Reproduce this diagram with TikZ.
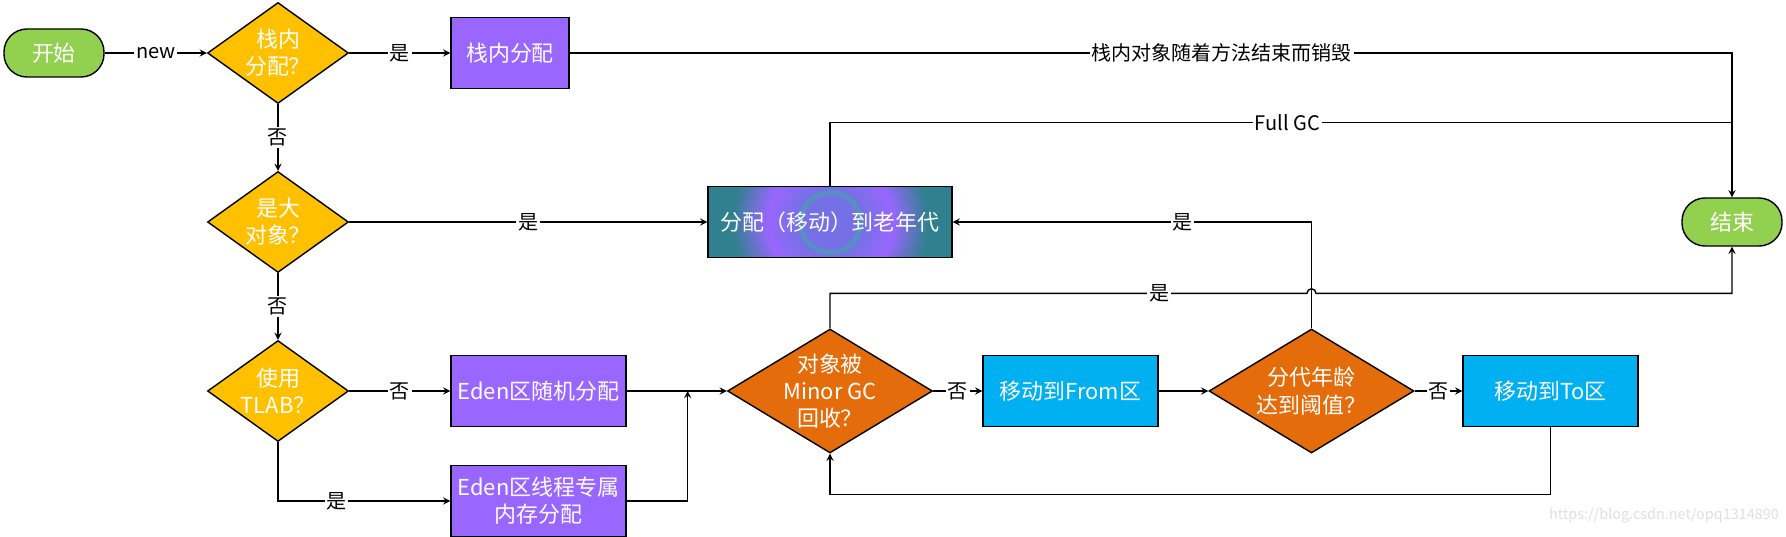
\documentclass[tikz,border=0pt]{standalone}
\usepackage{fontspec}
\setmainfont{Noto Sans CJK SC}
\usetikzlibrary{shapes.geometric, arrows}

\definecolor{termgreen}{HTML}{92D050}
\definecolor{choiceyellow}{HTML}{FFC000}
\definecolor{edenpurple}{HTML}{9966FF}
\definecolor{gcorange}{HTML}{E46C0A}
\definecolor{survivorcyan}{HTML}{00B0F0}
\definecolor{oldteal}{HTML}{31808F}
\definecolor{oldcore}{HTML}{7670E6}
\definecolor{oldring}{HTML}{4F98B8}

\newcommand{\boxfont}{\fontsize{12.5}{15.5}\selectfont}
\newcommand{\lblfont}{\fontsize{11.4}{13}\selectfont}

\pgfdeclareradialshading{oldgenshade}{\pgfpointorigin}{color(0cm)=(oldcore); color(0.52cm)=(oldcore); color(0.6cm)=(oldring); color(0.68cm)=(oldcore); color(1.25cm)=(edenpurple); color(1.95cm)=(oldteal); color(2.6cm)=(oldteal)}

\tikzstyle{arrow} = [thick,->,>=stealth]
\tikzstyle{terminal} = [rectangle, rounded corners=0.46cm, minimum width=2cm, minimum height=0.96cm, draw=black, thick, fill=termgreen, text=white, font=\boxfont]
\tikzstyle{choice} = [diamond, aspect=1.4, inner sep=-0.15cm, minimum width=2.82cm, minimum height=2.02cm, draw=black, thick, fill=choiceyellow, text=white, align=center, font=\boxfont]
\tikzstyle{gcchoice} = [diamond, aspect=1.65, inner sep=-0.3cm, minimum width=4.1cm, minimum height=2.48cm, draw=black, thick, fill=gcorange, text=white, align=center, font=\boxfont]
\tikzstyle{edenbox} = [rectangle, minimum width=3.5cm, minimum height=1.42cm, draw=black, thick, fill=edenpurple, text=white, align=center, font=\boxfont]
\tikzstyle{survivorbox} = [rectangle, minimum width=3.5cm, minimum height=1.42cm, draw=black, thick, fill=survivorcyan, text=white, align=center, font=\boxfont]
\tikzstyle{oldbox} = [rectangle, minimum width=4.88cm, minimum height=1.42cm, draw=black, thick, text=white, font=\boxfont, path picture={\node[inner sep=0pt] at (path picture bounding box.center) {\pgfuseshading{oldgenshade}};}]
\tikzstyle{lbl} = [fill=white, inner sep=1pt, text=black, font=\lblfont]

\begin{document}
\begin{tikzpicture}
	\useasboundingbox (0,0) rectangle (35.72,-10.74);
	\node (start) [terminal] at (1.08,-1.06) {开始};
	\node (stackq) [choice, right of=start, xshift=3.48cm] {栈内\\分配？};
	\node (stackalloc) [edenbox, minimum width=2.36cm, right of=stackq, xshift=3.64cm] {栈内分配};
	\node (bigq) [choice, below of=stackq, yshift=-2.38cm] {是大\\对象？};
	\node (tlabq) [choice, below of=bigq, yshift=-2.38cm] {使用\\TLAB？};
	\node (edenrand) [edenbox, right of=tlabq, xshift=4.21cm] {Eden区随机分配};
	\node (edentlab) [edenbox, below of=edenrand, yshift=-1.2cm] {Eden区线程专属\\内存分配};
	\node (oldgen) [oldbox, right of=bigq, xshift=10.04cm] {分配（移动）到老年代};
	\node (minorq) [gcchoice, below of=oldgen, yshift=-2.38cm] {对象被\\Minor GC\\回收？};
	\node (fromsp) [survivorbox, right of=minorq, xshift=3.81cm] {移动到From区};
	\node (ageq) [gcchoice, right of=fromsp, xshift=3.82cm] {分代年龄\\达到阈值？};
	\node (tosp) [survivorbox, right of=ageq, xshift=3.78cm] {移动到To区};
	\node (finish) [terminal, right of=oldgen, xshift=17.04cm] {结束};
	\node (mark) [anchor=south east, text=gray!25, font=\fontsize{8.2}{10}\selectfont] at (35.7,-10.58) {https://blog.csdn.net/opq1314890};

	\draw[arrow] (start) -- node[lbl] {new} (stackq);
	\draw[arrow] (stackq) -- node[lbl] {是} (stackalloc);
	\draw[arrow] (stackq) -- node[lbl] {否} (bigq);
	\draw[arrow] (bigq) -- node[lbl] {是} (oldgen);
	\draw[arrow] (bigq) -- node[lbl] {否} (tlabq);
	\draw[arrow] (tlabq) -- node[lbl] {否} (edenrand);
	\draw[arrow] (tlabq) |- node[lbl, pos=0.67] {是} (edentlab);
	\draw[arrow] (edenrand) -- (minorq);
	\coordinate (merge) at ([xshift=1.22cm]edenrand.east);
	\draw[arrow] (edentlab) -| (merge);
	\draw[arrow] (minorq) -- node[lbl] {否} (fromsp);
	\draw[arrow] (fromsp) -- (ageq);
	\draw[arrow] (ageq) -- node[lbl] {否} (tosp);
	\draw[arrow] (tosp.south) -- ++(0,-1.34) -| (minorq.south);
	\draw[arrow] (ageq.north) |- node[lbl, pos=0.68] {是} (oldgen.east);
	\draw[arrow] (stackalloc.east) -- node[lbl, pos=0.561] {栈内对象随着方法结束而销毁} (stackalloc.east -| finish.north) -- (finish.north);
	\draw[thick] (oldgen.north) -- ++(0,1.26) coordinate (fullgc) -- node[lbl, pos=0.507] {Full GC} (fullgc -| finish.north);
	\draw[arrow] (minorq.north) -- ++(0,0.7) coordinate (minorup) -- node[lbl, pos=0.69] {是} ([xshift=-0.09cm]minorup -| ageq.north) arc (180:0:0.09cm) -- (minorup -| finish.south) -- (finish.south);
\end{tikzpicture}
\end{document}
